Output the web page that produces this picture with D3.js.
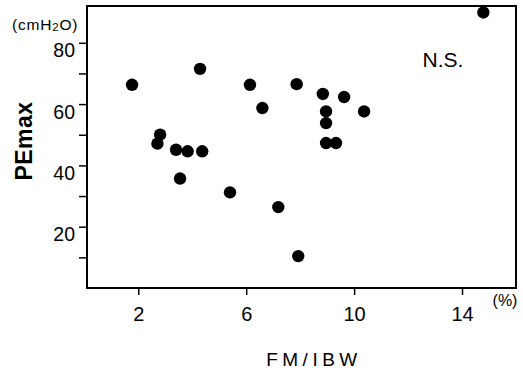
<!DOCTYPE html>
<html>
<head>
<meta charset="utf-8">
<script src="https://cdn.jsdelivr.net/npm/d3@7"></script>
<style>
  html, body { margin: 0; padding: 0; background: #fff; }
  svg { display: block; font-family: "Liberation Sans", Arial, sans-serif; }
</style>
</head>
<body>
<svg id="chart" width="523" height="370"></svg>
<script>
// FM/IBW (%) against PEmax (cmH2O), one dot per subject
const fmIbw = [1.77, 2.71, 2.81, 3.40, 3.55, 3.83, 4.29, 4.37, 5.40, 6.14, 6.60,
               7.19, 7.87, 7.93, 8.84, 8.96, 8.96, 8.96, 9.33, 9.63, 10.37, 14.79];
const peMax  = [66.3, 47.1, 50.0, 45.1, 35.7, 44.6, 71.5, 44.6, 31.2, 66.3, 58.7,
               26.4, 66.5, 10.4, 63.3, 57.6, 53.8, 47.3, 47.3, 62.3, 57.6, 89.9];

const xTicks = [2, 6, 10, 14];
const yTicksMajor = [20, 40, 60, 80];
const yTicksAll = [10, 20, 30, 40, 50, 60, 70, 80];

const svg = d3.select("#chart");

const x = d3.scaleLinear().domain([0.1, 16]).range([87, 516]);
const y = d3.scaleLinear().domain([0, 92]).range([288, 6]);

// plot frame
svg.append("rect")
  .attr("x", x.range()[0]).attr("y", y.range()[1])
  .attr("width", x.range()[1] - x.range()[0])
  .attr("height", y.range()[0] - y.range()[1])
  .attr("fill", "none").attr("stroke", "#000").attr("stroke-width", 2);

// y axis
const yAxis = svg.append("g")
  .attr("transform", `translate(${x.range()[0]},0)`)
  .call(d3.axisLeft(y).tickValues(yTicksAll).tickSize(8).tickPadding(4)
    .tickFormat(d => yTicksMajor.includes(d) ? d : ""));
yAxis.select(".domain").remove();
yAxis.selectAll(".tick line").attr("stroke", "#000").attr("stroke-width", 1.5);
yAxis.selectAll(".tick text")
  .attr("fill", "#000").attr("font-size", 19.5).attr("dy", 14)
  .attr("font-family", "Liberation Sans, Arial, sans-serif");

// x axis
const xAxis = svg.append("g")
  .attr("transform", `translate(0,${y.range()[0]})`)
  .call(d3.axisBottom(x).tickValues(xTicks).tickSize(7).tickPadding(12));
xAxis.select(".domain").remove();
xAxis.selectAll(".tick line").attr("stroke", "#000").attr("stroke-width", 1.5);
xAxis.selectAll(".tick text")
  .attr("fill", "#000").attr("font-size", 20)
  .attr("font-family", "Liberation Sans, Arial, sans-serif");

// data points
svg.append("g").selectAll("circle")
  .data(fmIbw.map((v, i) => [v, peMax[i]]))
  .join("circle")
  .attr("cx", d => x(d[0]))
  .attr("cy", d => y(d[1]))
  .attr("r", 6.2)
  .attr("fill", "#000");

// unit labels
const unitY = svg.append("text")
  .attr("x", 12).attr("y", 30)
  .attr("font-size", 15.5).attr("letter-spacing", 0.8).attr("fill", "#000");
unitY.append("tspan").text("(cmH");
unitY.append("tspan").text("2").attr("font-size", 11.5).attr("dy", 1);
unitY.append("tspan").text("O)").attr("dy", -1);

svg.append("text")
  .attr("x", 505).attr("y", 305.5)
  .attr("text-anchor", "middle")
  .attr("font-size", 16).attr("fill", "#000")
  .text("(%)");

// significance note
svg.append("text")
  .attr("x", 443).attr("y", 67)
  .attr("text-anchor", "middle")
  .attr("font-size", 21).attr("fill", "#000")
  .text("N.S.");

// axis titles
svg.append("text")
  .attr("transform", "translate(32,141) rotate(-90)")
  .attr("text-anchor", "middle")
  .attr("font-size", 23).attr("font-weight", "bold")
  .attr("letter-spacing", 0.5).attr("fill", "#000")
  .text("PEmax");

svg.append("text")
  .attr("x", 314).attr("y", 366)
  .attr("text-anchor", "middle")
  .attr("font-size", 19).attr("letter-spacing", 4.5)
  .attr("fill", "#000")
  .text("FM/IBW");
</script>
</body>
</html>
